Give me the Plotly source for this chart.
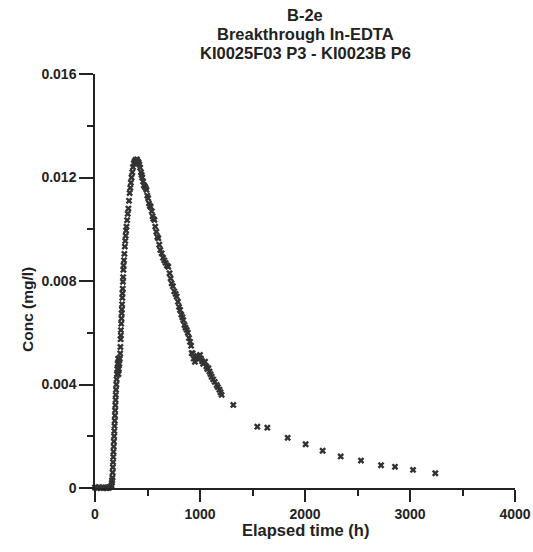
import plotly.graph_objects as go

# Elapsed time (h)
time_h = [
    0, 20, 40, 60, 80, 100, 110, 120, 130, 140, 150, 158,
    160, 163, 166, 168, 170, 172, 174, 176, 178, 180, 182, 184, 186, 188, 190,
    192, 194, 196, 198, 200, 203, 206, 209, 212, 216, 220, 224, 228, 232, 236,
    240, 242, 244, 246, 247, 250, 252, 254, 256, 258, 260, 262, 264, 266, 268,
    270, 272, 276, 280, 284, 288, 292, 296, 300, 306, 312, 318, 324, 330, 336,
    342, 348, 355, 362, 370, 378, 386, 394, 400, 408, 415, 422, 430, 438, 444,
    450, 458, 466, 474, 482, 490, 498, 506, 514, 522, 530, 540, 548, 556, 566,
    574, 584, 594, 603, 612, 622, 635, 648, 660, 672, 685, 698, 710, 720, 730,
    742, 755, 768, 778, 790, 800, 810, 822, 832, 841, 852, 862, 873, 884, 895,
    905, 915, 921, 930, 940, 952, 962, 975, 985, 1000, 1010, 1020, 1030, 1048,
    1060, 1070, 1079, 1090, 1100, 1111, 1125, 1140, 1159, 1170, 1185, 1195, 1206,
    1317, 1546, 1641, 1835, 2006, 2168, 2340, 2533, 2724, 2857, 3029, 3241,
]
# Concentration (mg/l)
conc = [
    0.00002, 0.0, 0.00003, 0.00001, 0.0, 0.00002, 0.0, 0.00002, 0.00001, 0.00003, 0.00005, 0.0001,
    0.0002, 0.0003, 0.0004, 0.0006, 0.0008, 0.0010, 0.0012, 0.0014, 0.0016, 0.0018, 0.0020, 0.0022, 0.0024, 0.0026, 0.0028,
    0.0030, 0.0032, 0.0034, 0.0036, 0.0038, 0.0040, 0.0042, 0.0044, 0.0046, 0.0048, 0.0050, 0.00440, 0.00460, 0.00480, 0.00500,
    0.00520, 0.00545, 0.00575, 0.00590, 0.00610, 0.00635, 0.00655, 0.00675, 0.00690, 0.00710, 0.00735, 0.00752, 0.00770, 0.00797, 0.00815,
    0.00843, 0.00860, 0.00880, 0.00905, 0.00933, 0.00955, 0.00975, 0.00995, 0.01010, 0.01035, 0.01060, 0.01080, 0.01110, 0.01140, 0.01160,
    0.01180, 0.01200, 0.01220, 0.01240, 0.01255, 0.01262, 0.01268, 0.01265, 0.01270, 0.01262, 0.01258, 0.01250, 0.01238, 0.01220, 0.01210,
    0.01200, 0.01185, 0.01170, 0.01165, 0.01160, 0.01152, 0.01130, 0.01120, 0.01100, 0.01090, 0.01087, 0.01070, 0.01050, 0.01040, 0.01036,
    0.01010, 0.00990, 0.00970, 0.00965, 0.00940, 0.00920, 0.00907, 0.00890, 0.00880, 0.00870, 0.00860, 0.00855, 0.00830, 0.00810, 0.00791,
    0.00780, 0.00760, 0.00750, 0.00740, 0.00720, 0.00700, 0.00688, 0.00670, 0.00660, 0.00649, 0.00630, 0.00620, 0.00611, 0.00600, 0.00580,
    0.00565, 0.00550, 0.00521, 0.00520, 0.00500, 0.00488, 0.00500, 0.00510, 0.00500, 0.00514, 0.00500, 0.00490, 0.00480, 0.00488,
    0.00470, 0.00460, 0.00463, 0.00450, 0.00440, 0.00430, 0.00420, 0.00410, 0.00398, 0.00390, 0.00380, 0.00370, 0.00360,
    0.00321, 0.00237, 0.00233, 0.00194, 0.00169, 0.00144, 0.00122, 0.00106, 0.00088, 0.00082, 0.00070, 0.00057,
]

x_ticks = [0, 1000, 2000, 3000, 4000]
x_tick_labels = ["0", "1000", "2000", "3000", "4000"]
y_ticks = [0, 0.004, 0.008, 0.012, 0.016]
y_tick_labels = ["0", "0.004", "0.008", "0.012", "0.016"]

title_lines = ["B-2e", "Breakthrough In-EDTA", "KI0025F03 P3 - KI0023B P6"]

FONT = "Liberation Sans, Arial, sans-serif"
INK = "#222222"

fig = go.Figure()
fig.add_trace(go.Scatter(
    x=time_h, y=conc, mode="markers",
    marker=dict(symbol="x", size=6, color="#333333", line=dict(width=0)),
    showlegend=False, cliponaxis=False,
))

def axis_style(ticklen):
    return dict(
        showgrid=False, zeroline=False, showline=True, linecolor=INK, linewidth=1.5,
        ticks="outside", tickcolor=INK, tickwidth=1.5, ticklen=ticklen,
        tickfont=dict(family=FONT, size=14, color=INK), automargin=False,
        minor=dict(ticks="outside", ticklen=6, tickcolor=INK, tickwidth=1.5),
    )

fig.update_xaxes(range=[0, 4000], tickvals=x_ticks,
                 ticktext=[f"<b>{t}</b>" for t in x_tick_labels],
                 minor_dtick=500, minor_tick0=0, **axis_style(12))
fig.update_yaxes(range=[0, 0.016], tickvals=y_ticks,
                 ticktext=[f"<b>{t}</b>" for t in y_tick_labels],
                 minor_dtick=0.002, minor_tick0=0, **axis_style(14))

annotations = []
for i, line in enumerate(title_lines):
    annotations.append(dict(
        text=f"<b>{line}</b>", xref="paper", yref="paper", x=0.5,
        y=1 + (74 - (15 + 19.2 * i)) / 414, xanchor="center", yanchor="middle",
        showarrow=False, font=dict(family=FONT, size=16.5, color=INK),
    ))
annotations.append(dict(
    text="<b>Elapsed time (h)</b>", xref="paper", yref="paper", x=0.5,
    y=-(530 - 488) / 414, xanchor="center", yanchor="middle",
    showarrow=False, font=dict(family=FONT, size=16.5, color=INK),
))
annotations.append(dict(
    text="<b>Conc (mg/l)</b>", xref="paper", yref="paper",
    x=-(95 - 27) / 420, y=(488 - 310) / 414, xanchor="center", yanchor="middle",
    textangle=-90, showarrow=False, font=dict(family=FONT, size=15.5, color=INK),
))

fig.update_layout(
    width=533, height=552,
    margin=dict(l=95, r=18, t=74, b=64),
    paper_bgcolor="white", plot_bgcolor="white",
    annotations=annotations,
)

fig.write_html("out.html")
